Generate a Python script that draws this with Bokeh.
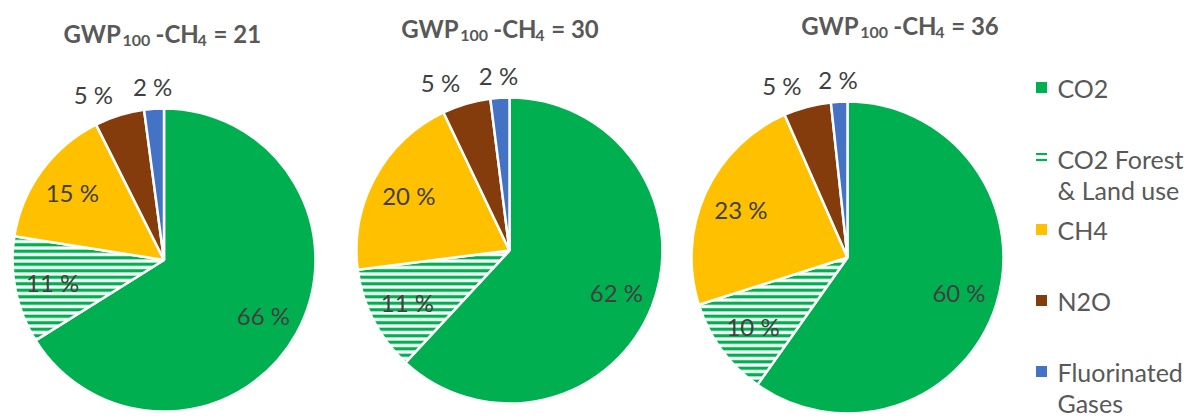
import math
from bokeh.plotting import figure
from bokeh.models import Range1d, ColumnDataSource
from bokeh.core.properties import value
from bokeh.embed import file_html
from bokeh.resources import INLINE

# ---------------- data ----------------
categories = ["CO2", "CO2  Forest\n& Land use", "CH4", "N2O", "Fluorinated\nGases"]
gwp_ch4 = [21, 30, 36]
share_gwp21 = [66.1, 11.4, 15.1, 5.3, 2.1]
share_gwp30 = [61.9, 11.1, 19.9, 5.1, 2.0]
share_gwp36 = [59.8, 10.3, 23.3, 4.9, 1.7]
shares = [share_gwp21, share_gwp30, share_gwp36]

# ---------------- style / layout ----------------
W, H = 1200, 418
colors = ["#00B050", "#FFFFFF", "#FFC000", "#843C0C", "#4472C4"]
hatches = ["blank", "horizontal_line", "blank", "blank", "blank"]
GREEN = "#00B050"
pie_geom = [(163.5, 259.5, 151.5), (509.0, 250.0, 153.0), (847.0, 257.0, 156.0)]  # screen cx, cy, r
title_pos = [(63.0, 33.3), (400.7, 28.0), (800.7, 25.0)]  # screen left, cap-centre
FONT = value("Lato")

p = figure(width=W, height=H, x_range=Range1d(0, W), y_range=Range1d(0, H),
           output_backend="svg", toolbar_location=None, min_border=0,
           x_axis_location=None, y_axis_location=None)
p.grid.visible = False
p.outline_line_color = None
p.background_fill_color = "white"
p.border_fill_color = "white"


def sy(y):
    return H - y


for k, vals in enumerate(shares):
    cx, cy, r = pie_geom[k]
    cyd = sy(cy)
    total = float(sum(vals))
    cum = 0.0
    starts, ends, mids = [], [], []
    for v in vals:
        f0 = cum / total
        cum += v
        f1 = cum / total
        starts.append(math.pi / 2 - 2 * math.pi * f0)
        ends.append(math.pi / 2 - 2 * math.pi * f1)
        mids.append(2 * math.pi * (f0 + f1) / 2)  # clockwise from top
    src = ColumnDataSource(dict(x=[cx] * len(vals), y=[cyd] * len(vals),
                                start=starts, end=ends, color=colors, hatch=hatches))
    p.wedge(x="x", y="y", radius=r, start_angle="start", end_angle="end",
            direction="clock", fill_color="color", hatch_pattern="hatch",
            hatch_color=GREEN, hatch_scale=6.5, hatch_weight=3.3,
            line_color="white", line_width=2.5, source=src)

    # labels
    cx_c, cy_c, tx_c = [], [], []
    cx_r, cy_r, tx_r = [], [], []
    for v, th in zip(vals, mids):
        txt = "%d %%" % round(v)
        if v / total > 0.08:
            rr = 0.75 * r
            cx_c.append(cx + rr * math.sin(th)); cy_c.append(cyd + rr * math.cos(th)); tx_c.append(txt)
        else:
            rr = r + 22
            px = cx + rr * math.sin(th)
            py = cyd + rr * math.cos(th)
            if abs(math.sin(th)) > 0.15:
                cx_r.append(px); cy_r.append(py); tx_r.append(txt)
            else:
                cx_c.append(px); cy_c.append(py); tx_c.append(txt)
    p.text(x=cx_c, y=cy_c, text=tx_c, text_font=FONT, text_font_size="24px",
           text_color="#404040", text_align="center", text_baseline="middle")
    if tx_r:
        p.text(x=cx_r, y=cy_r, text=tx_r, text_font=FONT, text_font_size="24px",
               text_color="#404040", text_align="right", text_baseline="middle")

    # title: GWP_100 -CH_4 = n
    tx0, tc = title_pos[k]
    main_parts = [("GWP", 0.0), ("-CH", 92.0), ("= %d" % gwp_ch4[k], 150.0)]
    sub_parts = [("100", 59.0), ("4", 134.0)]
    p.text(x=[tx0 + o for _, o in main_parts], y=[sy(tc)] * 3, text=[t for t, _ in main_parts],
           text_font=FONT, text_font_size="24px", text_font_style="bold",
           text_color="#595959", text_align="left", text_baseline="middle")
    p.text(x=[tx0 + o for _, o in sub_parts], y=[sy(tc + 7.0)] * 2, text=[t for t, _ in sub_parts],
           text_font=FONT, text_font_size="16px", text_font_style="bold",
           text_color="#595959", text_align="left", text_baseline="middle")

# ---------------- legend ----------------
leg_x_marker, leg_x_text = 1041.0, 1057.0
centre0, step, line_h = 87.0, 71.0, 31.0
for i, cat in enumerate(categories):
    c = centre0 + i * step
    p.scatter(x=[leg_x_marker], y=[sy(c)], marker="square", size=11,
              fill_color=colors[i], line_color=None,
              hatch_pattern=hatches[i], hatch_color=GREEN, hatch_scale=6, hatch_weight=2.2)
    lines = cat.split("\n")
    p.text(x=[leg_x_text] * len(lines), y=[sy(c + j * line_h) for j in range(len(lines))],
           text=lines, text_font=FONT, text_font_size="25px", text_color="#595959",
           text_align="left", text_baseline="middle")

open("out.html", "w").write(file_html(p, INLINE))
